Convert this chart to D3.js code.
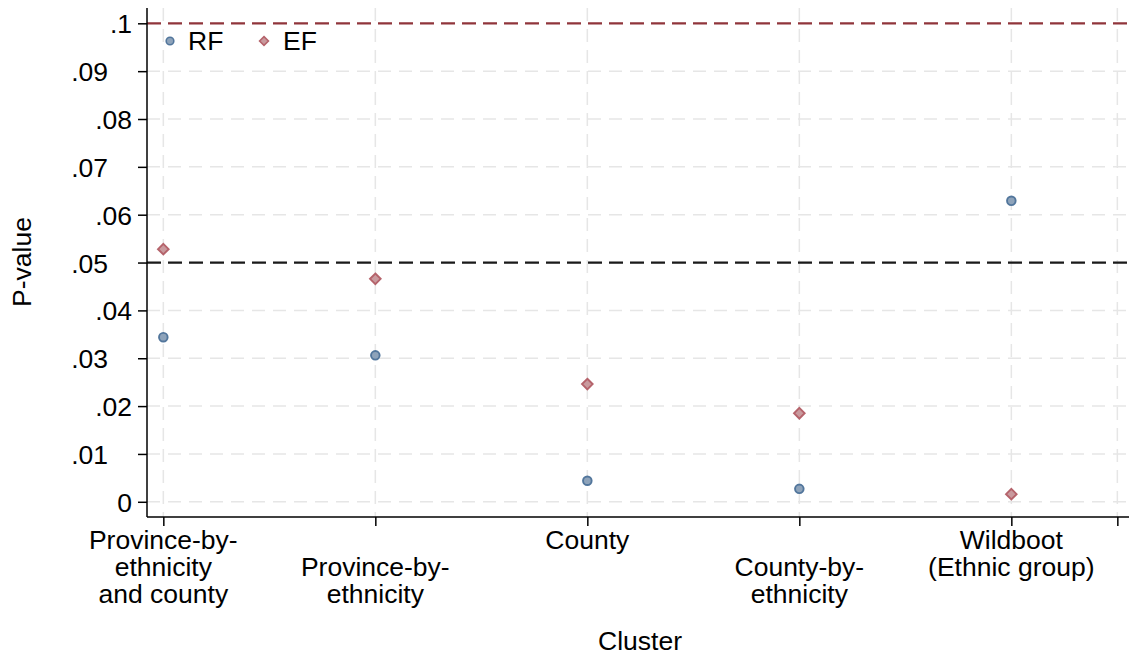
<!DOCTYPE html>
<html>
<head>
<meta charset="utf-8">
<script src="https://cdn.jsdelivr.net/npm/d3@7/dist/d3.min.js"></script>
<style>
  html, body { margin: 0; padding: 0; background: #fff; }
  svg { display: block; font-family: "Liberation Sans", Arial, sans-serif; }
</style>
</head>
<body>
<svg id="chart" width="1129" height="659"></svg>
<script>
// Cluster choices (line breaks shown with arrays of lines)
const categories = [
  ["Province-by-", "ethnicity", "and county"],
  ["Province-by-", "ethnicity"],
  ["County"],
  ["County-by-", "ethnicity"],
  ["Wildboot", "(Ethnic group)"]
];
const rfValues = [0.0344, 0.0306, 0.0044, 0.0027, 0.0629];
const efValues = [0.0528, 0.0466, 0.0246, 0.0185, 0.0016];
const yTicks = [0, 0.01, 0.02, 0.03, 0.04, 0.05, 0.06, 0.07, 0.08, 0.09, 0.1];
const xTicks = [1, 2, 3, 4, 5, 5.5];
const refLines = [
  { value: 0.1, color: "#90353b" },
  { value: 0.05, color: "#1a1a1a" }
];

const svg = d3.select("#chart");
const plotLeft = 147, plotRight = 1129, plotTop = 8, plotBottom = 517;
const fontSize = 26.5;

const x = d3.scaleLinear().domain([0.923, 5.555]).range([plotLeft, plotRight]);
const y = d3.scaleLinear().domain([-0.00318, 0.1032]).range([plotBottom, plotTop]);

const fmt = v => v === 0 ? "0" : d3.format(".2f")(v).replace(/^0/, "").replace(/0$/, "");

// gridlines
const grid = svg.append("g").attr("stroke", "#e6e6e6").attr("stroke-width", 1.5)
  .attr("stroke-dasharray", "13,8");
grid.selectAll("line.h").data(yTicks.slice(0, -1)).join("line")
  .attr("x1", plotLeft).attr("x2", plotRight)
  .attr("y1", d => y(d)).attr("y2", d => y(d));
grid.selectAll("line.v").data(xTicks).join("line")
  .attr("x1", d => x(d)).attr("x2", d => x(d))
  .attr("y1", plotTop).attr("y2", plotBottom);

// reference lines
svg.append("g").selectAll("line").data(refLines).join("line")
  .attr("x1", plotLeft).attr("x2", plotRight)
  .attr("y1", d => y(d.value)).attr("y2", d => y(d.value))
  .attr("stroke", d => d.color).attr("stroke-width", 2.2)
  .attr("stroke-dasharray", "14,7");

// y axis (alternating label offsets)
const yAxis = svg.append("g").attr("transform", `translate(${plotLeft},0)`)
  .call(d3.axisLeft(y).tickValues(yTicks).tickFormat(fmt).tickSize(9).tickSizeOuter(0));
yAxis.select(".domain").attr("stroke", "#000").attr("stroke-width", 1.5)
  .attr("d", `M0,${plotTop}V${plotBottom}`);
yAxis.selectAll(".tick line").attr("stroke", "#000").attr("stroke-width", 1.5);
yAxis.selectAll(".tick text")
  .attr("font-size", fontSize).attr("fill", "#000")
  .attr("font-family", "Liberation Sans, Arial, sans-serif")
  .attr("x", (d, i) => (yTicks.length - 1 - i) % 2 === 0 ? -15 : -39)
  .attr("dy", "0.36em");

// x axis
const xAxis = svg.append("g").attr("transform", `translate(0,${plotBottom})`)
  .call(d3.axisBottom(x).tickValues(xTicks).tickFormat("").tickSize(9).tickSizeOuter(0));
xAxis.select(".domain").attr("stroke", "#000").attr("stroke-width", 1.5)
  .attr("d", `M${plotLeft},0H${plotRight}`);
xAxis.selectAll(".tick line").attr("stroke", "#000").attr("stroke-width", 1.5);

// category labels, alternate ones pushed down a line
const catG = svg.append("g").attr("font-size", fontSize).attr("text-anchor", "middle").attr("fill", "#000");
categories.forEach((lines, i) => {
  const t = catG.append("text").attr("x", x(i + 1));
  const startY = 549 + (i % 2) * 27;
  lines.forEach((ln, j) => {
    t.append("tspan").attr("x", x(i + 1)).attr("y", startY + j * 27).text(ln);
  });
});

// axis titles
svg.append("text").attr("x", 640).attr("y", 650).attr("text-anchor", "middle")
  .attr("font-size", fontSize).text("Cluster");
svg.append("text").attr("transform", "translate(31,262) rotate(-90)")
  .attr("text-anchor", "middle").attr("font-size", fontSize).text("P-value");

// markers
const circleStyle = { fill: "#8ea3ba", stroke: "#52769c" };
const diamondStyle = { fill: "#c99a9e", stroke: "#b5636b" };
const diamond = d3.symbol().type(d3.symbolDiamond2).size(72);

svg.append("g").selectAll("circle").data(rfValues).join("circle")
  .attr("cx", (d, i) => x(i + 1)).attr("cy", d => y(d)).attr("r", 4.3)
  .attr("fill", circleStyle.fill).attr("stroke", circleStyle.stroke).attr("stroke-width", 1.9);

svg.append("g").selectAll("path").data(efValues).join("path")
  .attr("d", diamond)
  .attr("transform", (d, i) => `translate(${x(i + 1)},${y(d)})`)
  .attr("fill", diamondStyle.fill).attr("stroke", diamondStyle.stroke).attr("stroke-width", 1.9);

// legend
const leg = svg.append("g").attr("font-size", fontSize);
leg.append("circle").attr("cx", 170).attr("cy", 41).attr("r", 3.8)
  .attr("fill", circleStyle.fill).attr("stroke", circleStyle.stroke).attr("stroke-width", 1.6);
leg.append("text").attr("x", 188).attr("y", 50).text("RF");
leg.append("path").attr("d", d3.symbol().type(d3.symbolDiamond2).size(50))
  .attr("transform", "translate(264,41)")
  .attr("fill", diamondStyle.fill).attr("stroke", diamondStyle.stroke).attr("stroke-width", 1.6);
leg.append("text").attr("x", 283).attr("y", 50).text("EF");
</script>
</body>
</html>
